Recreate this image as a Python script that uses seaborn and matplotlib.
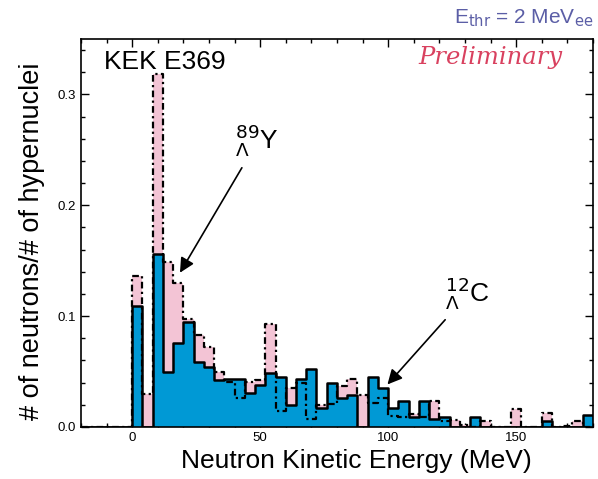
import matplotlib
matplotlib.use("Agg")
import matplotlib.pyplot as plt
import numpy as np
import pandas as pd
import seaborn as sns
from matplotlib.ticker import MultipleLocator, FormatStrFormatter

# neutron kinetic energy bins, 4 MeV wide, lower edges 0..176
bin_lo = np.arange(0, 180, 4)

# 12_Lambda C  (blue, solid outline)
carbon = [0.109, 0.0, 0.156, 0.050, 0.076, 0.095, 0.059, 0.054, 0.042, 0.043,
          0.043, 0.031, 0.038, 0.049, 0.045, 0.020, 0.043, 0.052, 0.017, 0.040,
          0.026, 0.029, 0.0, 0.045, 0.035, 0.017, 0.023, 0.009, 0.023, 0.007,
          0.009, 0.0, 0.0, 0.009, 0.0, 0.0, 0.0, 0.0, 0.0, 0.0,
          0.005, 0.0, 0.0, 0.0, 0.011]

# 89_Lambda Y  (pink, dash-dot outline)
yttrium = [0.136, 0.030, 0.318, 0.149, 0.130, 0.097, 0.083, 0.072, 0.050, 0.041,
           0.026, 0.041, 0.042, 0.093, 0.014, 0.035, 0.040, 0.0075, 0.020, 0.021,
           0.037, 0.043, 0.029, 0.022, 0.026, 0.010, 0.009, 0.012, 0.009, 0.023,
           0.005, 0.006, 0.002, 0.0, 0.005, 0.0, 0.0, 0.016, 0.0, 0.0,
           0.013, 0.0, 0.001, 0.005, 0.0]

blue = "#0099d5"
pink = "#f3c4d5"

sns.set_style("ticks")
plt.rcParams['font.family'] = ['Liberation Sans', 'DejaVu Sans']
plt.rcParams.update({"text.color": "black", "axes.labelcolor": "black",
                     "axes.edgecolor": "black", "xtick.color": "black",
                     "ytick.color": "black"})

df = pd.DataFrame({"energy": bin_lo + 2.0, "carbon": carbon, "yttrium": yttrium})
edges = list(range(-20, 184, 4))

fig = plt.figure(figsize=(5.98, 4.79), dpi=100)
ax = fig.add_axes([0.1355, 0.1086, 0.856, 0.81])

sns.histplot(data=df, x="energy", weights="yttrium", bins=edges, element="step",
             fill=True, color=pink, alpha=1, linewidth=0, ax=ax)
sns.histplot(data=df, x="energy", weights="carbon", bins=edges, element="step",
             fill=True, color=blue, alpha=1, linewidth=0, ax=ax)
sns.histplot(data=df, x="energy", weights="carbon", bins=edges, element="step",
             fill=False, color="black", linewidth=1.8, ax=ax)
sns.histplot(data=df, x="energy", weights="yttrium", bins=edges, element="step",
             fill=False, color="black", linewidth=1.6,
             linestyle=(0, (3, 1.5, 1, 1.5)), ax=ax)

ax.set_xlim(-20, 180)
ax.set_ylim(0, 0.35)
ax.xaxis.set_major_locator(MultipleLocator(50))
ax.xaxis.set_minor_locator(MultipleLocator(10))
ax.yaxis.set_major_locator(MultipleLocator(0.1))
ax.yaxis.set_minor_locator(MultipleLocator(0.02))
ax.yaxis.set_major_formatter(FormatStrFormatter('%.1f'))
ax.tick_params(which='both', direction='in', top=True, right=True, labelsize=9.5, width=1)
ax.tick_params(which='major', length=6)
ax.tick_params(which='minor', length=3)
for sp in ax.spines.values():
    sp.set_linewidth(1.2)

ax.set_xlabel("Neutron Kinetic Energy (MeV)", fontsize=19)
ax.set_ylabel("# of neutrons/# of hypernuclei", fontsize=19.5)
ax.xaxis.set_label_coords(0.537, -0.057)
ax.yaxis.set_label_coords(-0.070, 0.478)

ax.text(-11, 0.329, "KEK E369", ha='left', va='center', fontsize=19)
ax.text(140, 0.333, "Preliminary", ha='center', va='center', fontsize=17.5,
        family='DejaVu Serif', style='italic', color='#d9415f')
fig.text(0.875, 0.962, r"E$_{\rm thr}$ = 2 MeV$_{\rm ee}$", ha='center', va='center',
         fontsize=15, color='#5b5ea6')

arrow = dict(arrowstyle='-|>', color='black', lw=1.2, mutation_scale=22)
ax.annotate("", xy=(18.1, 0.137), xytext=(43.4, 0.236), arrowprops=arrow)
ax.annotate("", xy=(99, 0.0365), xytext=(123, 0.0986), arrowprops=arrow)
ax.text(48.8, 0.259, r"${}^{89}_{\Lambda}$Y", ha='center', va='center', fontsize=19)
ax.text(131, 0.121, r"${}^{12}_{\Lambda}$C", ha='center', va='center', fontsize=19)

plt.savefig("out.png", dpi=100)
plt.close()
